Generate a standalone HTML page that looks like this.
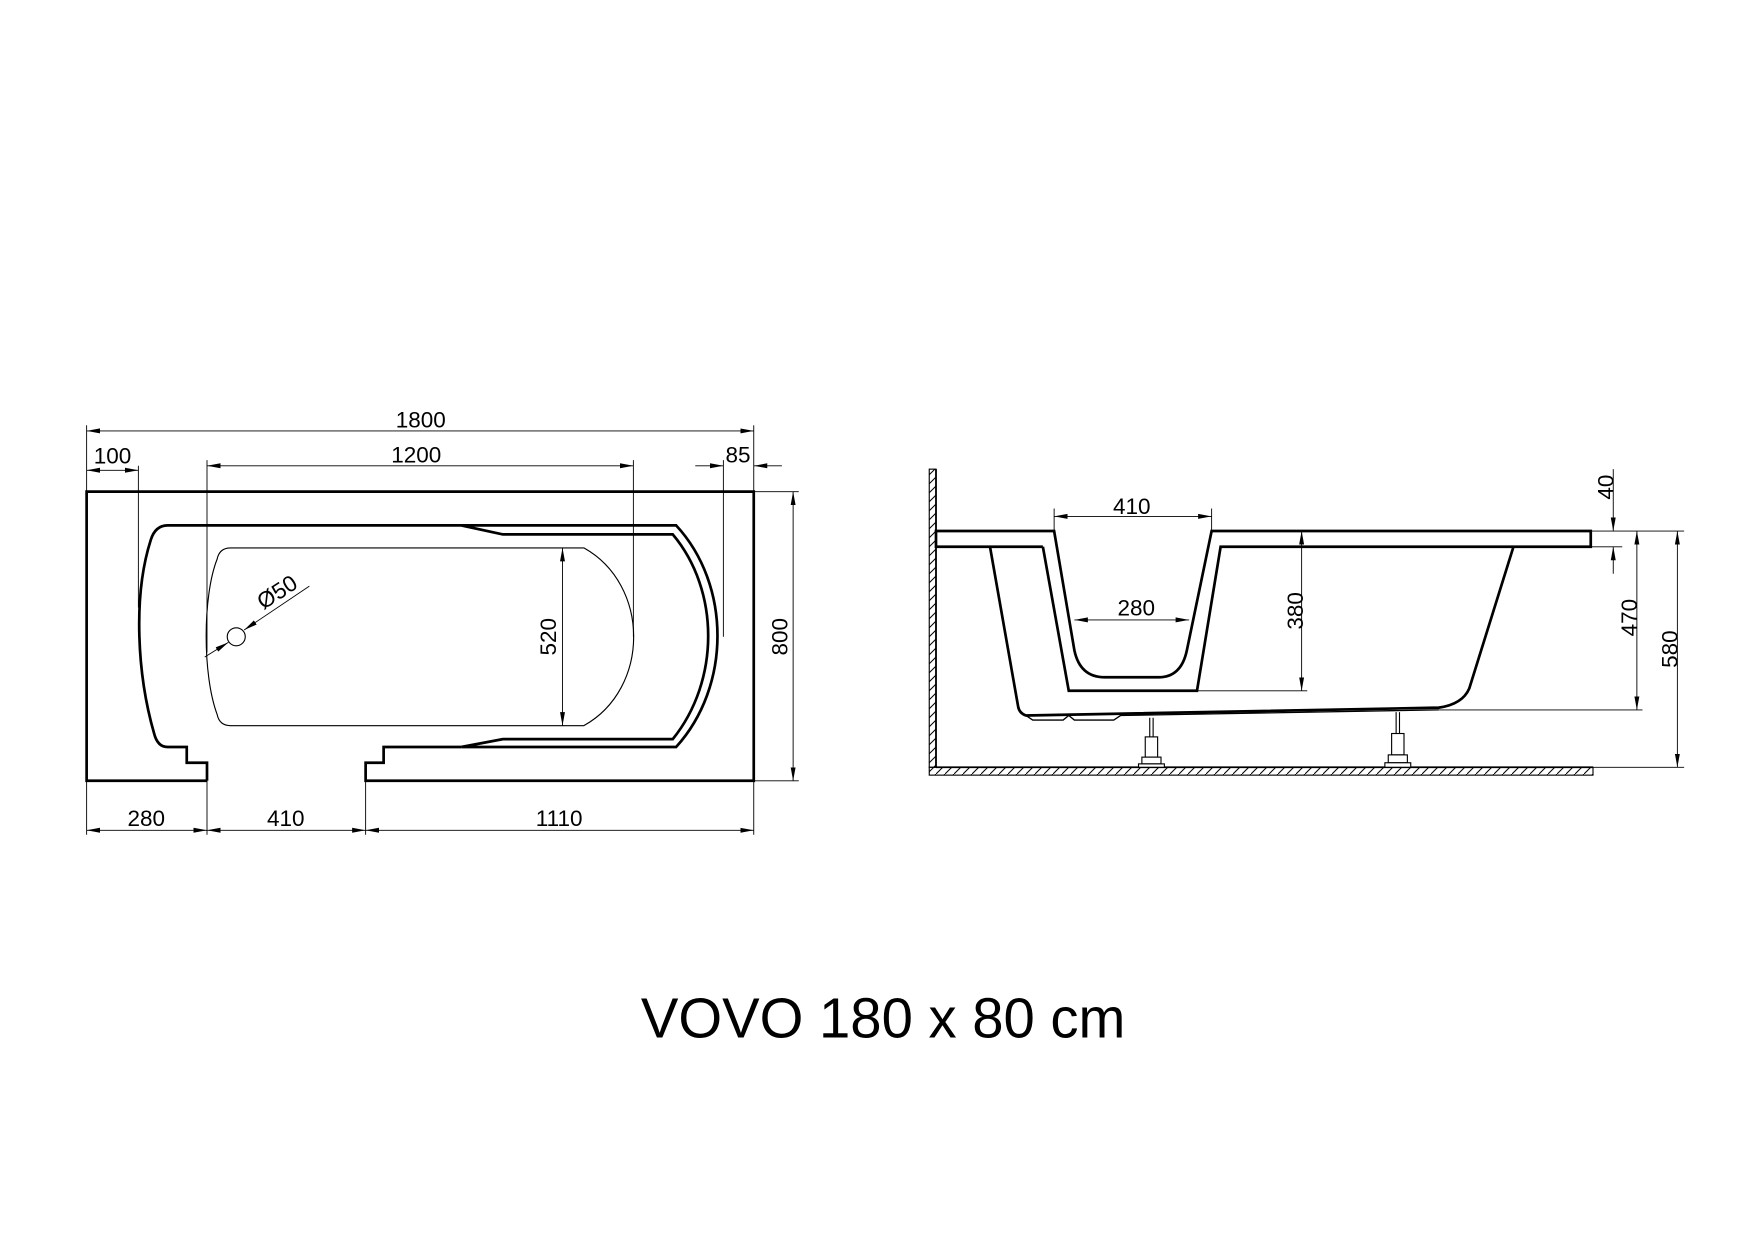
<!DOCTYPE html>
<html><head><meta charset="utf-8"><style>
html,body{margin:0;padding:0;background:#fff;}
svg{display:block;}
text{font-family:"Liberation Sans",Arial,sans-serif;fill:#000;}
</style></head><body>
<svg width="1755" height="1240" viewBox="0 0 1560 1102.2" xmlns="http://www.w3.org/2000/svg">
<defs>
<marker id="a" viewBox="0 0 12 6" refX="12" refY="3" markerWidth="12" markerHeight="6" markerUnits="userSpaceOnUse" orient="auto-start-reverse">
<path d="M0,0.8 L12,3 L0,5.2 Z" fill="#000"/></marker>
<pattern id="h" width="8" height="8" patternUnits="userSpaceOnUse">
<path d="M0,8 L8,0" stroke="#000" stroke-width="0.9"/></pattern>
</defs>
<rect width="1560" height="1102.2" fill="#fff"/>

<!-- PLAN VIEW -->
<g fill="none" stroke="#000" stroke-width="2.4" stroke-linejoin="miter">
<path d="M184,694 L77,694 L77,437 L670,437 L670,694 L325,694 L325,678 L341,678 L341,664 L410,664"/>
<path d="M184,694 L184,678 L166,678 L166,664 L149,664 Q140,664 137,652 C122,600 118,530 134,480 Q138,467 149,467 L410,467 L447,475 L598,475 C640,525 640,605 598,657 L447,657 L410,664 L601,664 C650,610 650,520 601,467 L410,467"/>
</g>
<g fill="none" stroke="#000" stroke-width="1">
<path d="M205,487 L519,487 C578,520 578,612 519,645 L205,645 Q195,645 193,635 C180,600 180,530 193,497 Q195,487 205,487 Z"/>
<circle cx="210" cy="566" r="8"/>
</g>
<g stroke="#000" stroke-width="0.8" fill="none">
<line x1="77" y1="378" x2="77" y2="437"/><line x1="670" y1="378" x2="670" y2="437"/>
<line x1="123" y1="414" x2="123" y2="540"/>
<line x1="184" y1="409" x2="184" y2="580"/><line x1="563" y1="409" x2="563" y2="566"/>
<line x1="643" y1="409" x2="643" y2="566"/>
<line x1="670" y1="437" x2="710" y2="437"/><line x1="670" y1="694" x2="710" y2="694"/>
<line x1="77" y1="694" x2="77" y2="742"/><line x1="184" y1="694" x2="184" y2="742"/>
<line x1="325" y1="694" x2="325" y2="742"/><line x1="670" y1="694" x2="670" y2="742"/>
<line x1="77" y1="383" x2="670" y2="383" marker-start="url(#a)" marker-end="url(#a)"/>
<line x1="77" y1="418" x2="123" y2="418" marker-start="url(#a)" marker-end="url(#a)"/>
<line x1="184" y1="414" x2="563" y2="414" marker-start="url(#a)" marker-end="url(#a)"/>
<line x1="618" y1="414" x2="643" y2="414" marker-end="url(#a)"/>
<line x1="695" y1="414" x2="670" y2="414" marker-end="url(#a)"/>
<line x1="705" y1="437" x2="705" y2="694" marker-start="url(#a)" marker-end="url(#a)"/>
<line x1="77" y1="738" x2="184" y2="738" marker-start="url(#a)" marker-end="url(#a)"/>
<line x1="184" y1="738" x2="325" y2="738" marker-start="url(#a)" marker-end="url(#a)"/>
<line x1="325" y1="738" x2="670" y2="738" marker-start="url(#a)" marker-end="url(#a)"/>
<line x1="500" y1="487" x2="500" y2="645" marker-start="url(#a)" marker-end="url(#a)"/>
<line x1="182" y1="584" x2="203" y2="571" marker-end="url(#a)"/>
<line x1="275" y1="521" x2="217" y2="560" marker-end="url(#a)"/>
</g>
<g font-size="20" text-anchor="middle">
<text x="374" y="380">1800</text>
<text x="100" y="412">100</text>
<text x="370" y="411">1200</text>
<text x="656" y="411">85</text>
<text x="130" y="734">280</text>
<text x="254" y="734">410</text>
<text x="497" y="734">1110</text>
<text transform="translate(700,566) rotate(-90)">800</text>
<text transform="translate(494,566) rotate(-90)">520</text>
<text transform="translate(250,532) rotate(-33)">Ø50</text>
</g>

<!-- SIDE VIEW -->
<rect x="826" y="417" width="6" height="265" fill="url(#h)" stroke="#000" stroke-width="1"/>
<rect x="826" y="682" width="590" height="7" fill="url(#h)" stroke="#000" stroke-width="1"/>
<line x1="832" y1="417" x2="832" y2="682" stroke="#000" stroke-width="1.6"/>
<line x1="832" y1="682" x2="1416" y2="682" stroke="#000" stroke-width="1.6"/>
<g fill="none" stroke="#000" stroke-width="2.4" stroke-linejoin="miter">
<path d="M927,486 L832,486 L832,472 L937,472 L955,578 Q960,602 982,602 L1030,602 Q1050,602 1055,578 L1077,472 L1414,472 L1414,486 L1085,486 L1064,614 L950,614 L927,486"/>
<path d="M880,486 L905,628 Q906,634 912,636 L1279,629 Q1300,626 1306,612 L1345,487"/>
<path d="M912,636 L918,640 L945,640 L950,636 L955,640 L990,640 L996,636 L1279,631" stroke-width="1.2"/>
</g>
<g fill="#fff" stroke="#000" stroke-width="1">
<line x1="1022" y1="638" x2="1022" y2="655"/><line x1="1025" y1="638" x2="1025" y2="655"/>
<rect x="1018" y="655" width="11" height="18"/><rect x="1015" y="673" width="17" height="6"/><rect x="1012" y="679" width="23" height="3"/>
<line x1="1241" y1="633" x2="1241" y2="652"/><line x1="1244" y1="633" x2="1244" y2="652"/>
<rect x="1237" y="652" width="11" height="19"/><rect x="1234" y="671" width="17" height="7"/><rect x="1231" y="678" width="23" height="4"/>
</g>
<g stroke="#000" stroke-width="0.8" fill="none">
<line x1="937" y1="452" x2="937" y2="472"/><line x1="1077" y1="452" x2="1077" y2="472"/>
<line x1="937" y1="459" x2="1077" y2="459" marker-start="url(#a)" marker-end="url(#a)"/>
<line x1="955" y1="551" x2="1057" y2="551" marker-start="url(#a)" marker-end="url(#a)"/>
<line x1="1064" y1="614" x2="1162" y2="614"/>
<line x1="1157" y1="472" x2="1157" y2="614" marker-start="url(#a)" marker-end="url(#a)"/>
<line x1="1414" y1="472" x2="1497" y2="472"/><line x1="1414" y1="486" x2="1442" y2="486"/>
<line x1="1279" y1="631" x2="1460" y2="631"/><line x1="1416" y1="682" x2="1497" y2="682"/>
<line x1="1434" y1="417" x2="1434" y2="472" marker-end="url(#a)"/>
<line x1="1434" y1="510" x2="1434" y2="486" marker-end="url(#a)"/>
<line x1="1455" y1="472" x2="1455" y2="631" marker-start="url(#a)" marker-end="url(#a)"/>
<line x1="1491" y1="472" x2="1491" y2="682" marker-start="url(#a)" marker-end="url(#a)"/>
</g>
<g font-size="20" text-anchor="middle">
<text x="1006" y="457">410</text>
<text x="1010" y="547">280</text>
<text transform="translate(1158,543) rotate(-90)">380</text>
<text transform="translate(1434,433) rotate(-90)">40</text>
<text transform="translate(1455,549) rotate(-90)">470</text>
<text transform="translate(1491,577) rotate(-90)">580</text>
</g>

<text x="785" y="922" font-size="50" text-anchor="middle">VOVO 180 x 80 cm</text>
</svg>
</body></html>
